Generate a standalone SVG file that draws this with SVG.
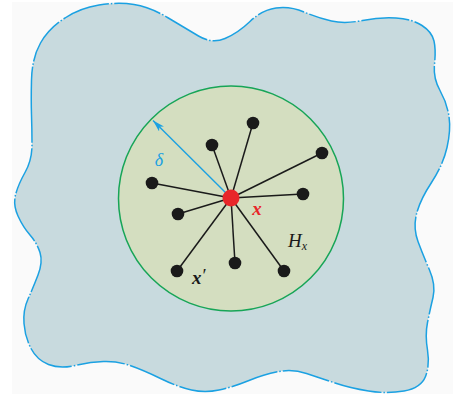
<svg xmlns="http://www.w3.org/2000/svg" width="460" height="401" viewBox="0 0 460 401">
<defs>
<style>
.edge{stroke:#1a1a1a;stroke-width:1.5;fill:none}
.pt{fill:#1a1a1a}
.lbl{font-family:"Liberation Serif","DejaVu Serif",serif;font-style:italic}
</style>
<marker id="ah" viewBox="0 0 12 7" refX="12" refY="3.5" markerWidth="12" markerHeight="7" markerUnits="userSpaceOnUse" orient="auto">
<path d="M0,0 L12,3.5 L0,7 L3,3.5 Z" fill="#1ba1e2"/>
</marker>
</defs>
<rect width="460" height="401" fill="#ffffff"/>
<rect x="12" y="2" width="441" height="392" fill="#fafafa"/>
<g id="region">
<path d="M31.5,115 Q31,100 31.5,80 Q32,58 40.5,43 Q49,28 65,18 Q80,8 99,5 Q118,2 134,4.5 Q150,7 167.5,17.5 Q185,28 198.5,36 Q212,44 225,38.5 Q238,33 250,21.5 Q262,10 276,8 Q290,6 304,12 Q318,18 331.5,21 Q345,24 362.5,20.5 Q380,17 396,18 Q412,19 422,25.5 Q432,32 434,41 Q436,50 434.5,64 Q433,78 440,90.5 Q447,103 449,116.5 Q451,130 447,147.5 Q443,165 431.5,182.5 Q420,200 416.5,214 Q413,228 418,241.5 Q423,255 429.5,270 Q436,285 433,297.5 Q430,310 427.5,322.5 Q425,335 427.5,350 Q430,365 425.5,376.5 Q421,388 404,391 Q387,394 368.5,391 Q350,388 335,383 Q320,378 306.5,373.5 Q293,369 279,371.5 Q265,374 249,380.5 Q233,387 219,390 Q205,393 191.5,390 Q178,387 160.5,378.5 Q143,370 130,365.5 Q117,361 103.5,361.5 Q90,362 75,365.5 Q60,369 48.5,364.5 Q37,360 31,348.5 Q25,337 24,323.5 Q23,310 28,299 Q33,288 38,275 Q43,262 40,252.5 Q37,243 30,235 Q23,227 18,216 Q13,205 15.5,195 Q18,185 25,172.5 Q32,160 32,145 Q32,130 31.5,115 Z" fill="#c8dade" stroke="#1ba1e2" stroke-width="1.5" stroke-dasharray="48 2 1.5 2"/>
</g>
<g id="ball">
<circle cx="231" cy="198.5" r="112.5" fill="#d4dec0" stroke="#17a557" stroke-width="1.5"/>
</g>
<g id="connectors">
<line class="edge" x1="231" y1="198" x2="253" y2="123"/>
<line class="edge" x1="231" y1="198" x2="212" y2="145"/>
<line class="edge" x1="231" y1="198" x2="322" y2="153"/>
<line class="edge" x1="231" y1="198" x2="152" y2="183"/>
<line class="edge" x1="231" y1="198" x2="303" y2="194"/>
<line class="edge" x1="231" y1="198" x2="178" y2="214"/>
<line class="edge" x1="231" y1="198" x2="177" y2="271"/>
<line class="edge" x1="231" y1="198" x2="235" y2="263"/>
<line class="edge" x1="231" y1="198" x2="284" y2="271"/>
<line x1="231" y1="198" x2="153" y2="120.5" stroke="#1ba1e2" stroke-width="1.4" marker-end="url(#ah)"/>
</g>
<g id="n1"><circle class="pt" cx="253" cy="123" r="6.3"/></g>
<g id="n2"><circle class="pt" cx="212" cy="145" r="6.3"/></g>
<g id="n3"><circle class="pt" cx="322" cy="153" r="6.3"/></g>
<g id="n4"><circle class="pt" cx="152" cy="183" r="6.3"/></g>
<g id="n5"><circle class="pt" cx="303" cy="194" r="6.3"/></g>
<g id="n6"><circle class="pt" cx="178" cy="214" r="6.3"/></g>
<g id="n7"><circle class="pt" cx="177" cy="271" r="6.3"/></g>
<g id="n8"><circle class="pt" cx="235" cy="263" r="6.3"/></g>
<g id="n9"><circle class="pt" cx="284" cy="271" r="6.3"/></g>
<g id="center"><circle cx="231" cy="198" r="8.5" fill="#e8262a"/></g>
<g id="labels">
<text class="lbl" x="159" y="166" font-size="18" fill="#1ba1e2" text-anchor="middle">δ</text>
<text class="lbl" x="257" y="215" font-size="19" font-weight="bold" fill="#e8262a" text-anchor="middle">x</text>
<text class="lbl" x="288" y="247" font-size="19" fill="#1a1a1a">H<tspan font-size="12" dy="3">x</tspan></text>
<text class="lbl" x="192" y="284" font-size="19" font-weight="bold" fill="#1a1a1a">x<tspan font-weight="normal" font-style="normal" dx="1" dy="-2">′</tspan></text>
</g>
</svg>
